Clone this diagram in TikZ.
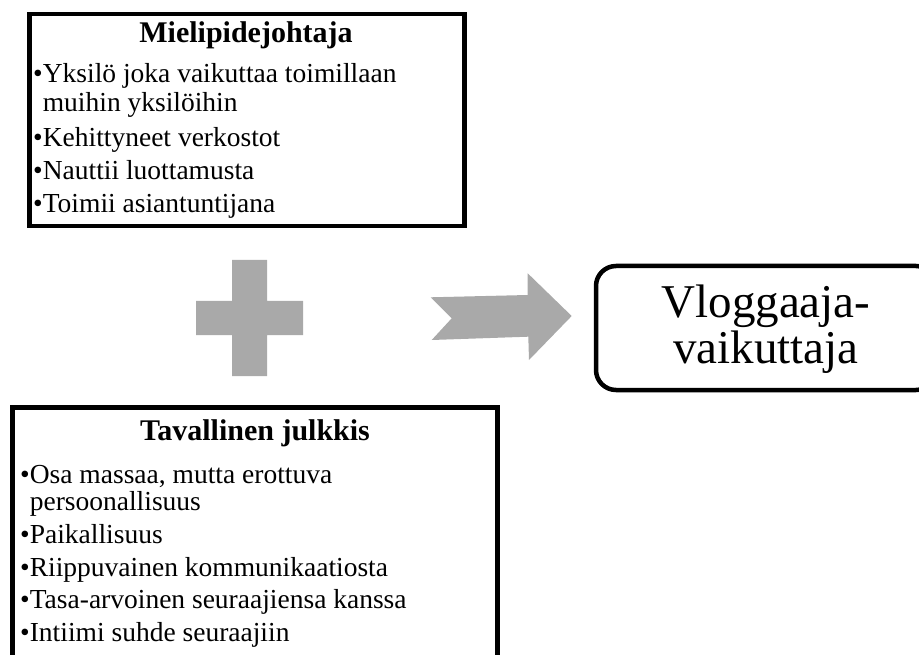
\documentclass[tikz,border=0pt]{standalone}
\usepackage{fontspec}
\setmainfont{Liberation Serif}
\definecolor{shapegray}{HTML}{A9A9A9}
\tikzset{
  panel/.style={draw=black, line width=4.5pt, fill=white, inner sep=0pt},
  ttl/.style={font=\fontsize{30}{36}\selectfont\bfseries, anchor=base, inner sep=0pt},
  itm/.style={font=\fontsize{27.5}{32}\selectfont, anchor=base west, inner sep=0pt},
  big/.style={font=\fontsize{47}{47}\selectfont, anchor=base, inner sep=0pt},
  solidgray/.style={fill=shapegray, draw=none}
}
\begin{document}
\begin{tikzpicture}[x=1pt, y=-1pt]
  \useasboundingbox (0,0) rectangle (919,655);
  \clip (0,0) rectangle (919,655);

  % upper panel
  \node[panel, minimum width=435pt, minimum height=212pt] (mj) at (247,120) {};
  \node[ttl] (mjt) at (246,43) {Mielipidejohtaja};
  \node[itm] (mj1) at (33,83)  {•Yksilö joka vaikuttaa toimillaan};
  \node[itm] (mj1b) at (33,112) {\phantom{•}muihin yksilöihin};
  \node[itm] (mj2) at (33,147) {•Kehittyneet verkostot};
  \node[itm] (mj3) at (33,180) {•Nauttii luottamusta};
  \node[itm] (mj4) at (33,213) {•Toimii asiantuntijana};

  % lower panel (runs past the bottom edge)
  \node[panel, minimum width=485pt, minimum height=272pt] (tj) at (255,543.5) {};
  \node[ttl] (tjt) at (255,440) {Tavallinen julkkis};
  \node[itm] (tj1) at (20,483) {•Osa massaa, mutta erottuva};
  \node[itm] (tj1b) at (20,510) {\phantom{•}persoonallisuus};
  \node[itm] (tj2) at (20,543) {•Paikallisuus};
  \node[itm] (tj3) at (20,576) {•Riippuvainen kommunikaatiosta};
  \node[itm] (tj4) at (20,608) {•Tasa-arvoinen seuraajiensa kanssa};
  \node[itm] (tj5) at (20,641) {•Intiimi suhde seuraajiin};

  % result box (runs past the right edge)
  \node[panel, rounded corners=20pt, minimum width=340pt, minimum height=124pt] (vv) at (766,328) {};
  \node[big] (vv1) at (766,317) {Vloggaaja-};
  \node[big] (vv2) at (766,363) {vaikuttaja};

  % plus sign
  \fill[solidgray] (232,260) -- (267,260) -- (267,301) -- (303,301) -- (303,335)
    -- (267,335) -- (267,376) -- (232,376) -- (232,335) -- (196,335)
    -- (196,301) -- (232,301) -- cycle;

  % notched block arrow
  \fill[solidgray] (430.7,297.3) -- (527.7,295) -- (527.7,273.3) -- (571.7,316)
    -- (529,360) -- (528.3,336.7) -- (431.7,340) -- (451.7,318.3) -- cycle;
\end{tikzpicture}
\end{document}
